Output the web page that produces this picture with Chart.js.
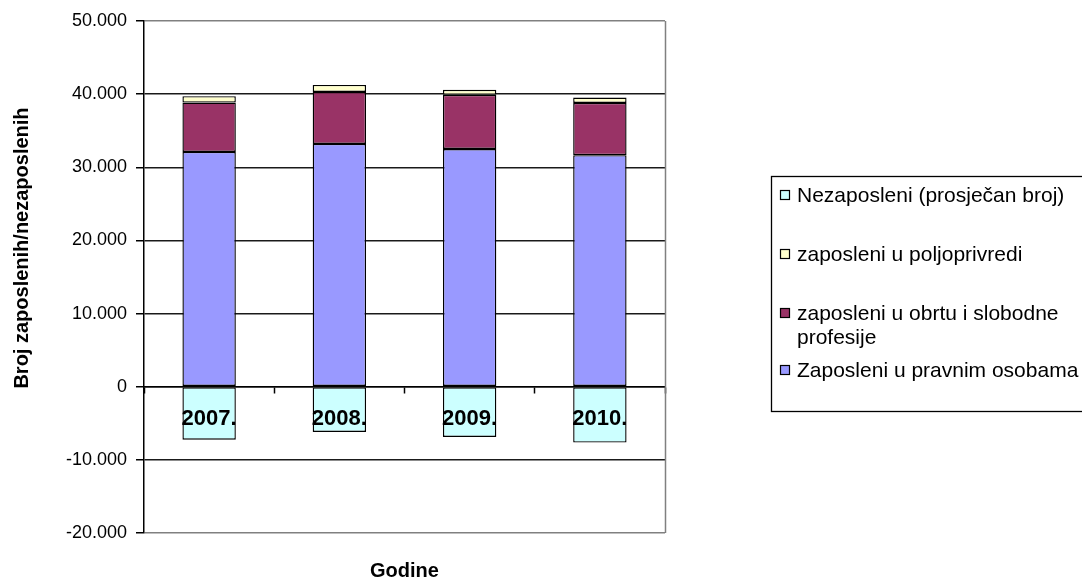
<!DOCTYPE html>
<html>
<head>
<meta charset="utf-8">
<title>Zaposleni i nezaposleni 2007.–2010.</title>
<script src="https://cdn.jsdelivr.net/npm/chart.js@4.4.1/dist/chart.umd.min.js"></script>
<style>
  html, body { margin: 0; padding: 0; background: #fff; }
  #wrap { position: relative; width: 1082px; height: 580px; }
</style>
</head>
<body>
<div id="wrap"><canvas id="c" width="1082" height="580"></canvas></div>
<script>
// Godine
const godine = ['2007.', '2008.', '2009.', '2010.'];
// Zaposleni u pravnim osobama
const pravneOsobe = [32100, 33200, 32500, 31650];
// Zaposleni u obrtu i slobodne profesije
const obrtProfesije = [6750, 7100, 7400, 7150];
// Zaposleni u poljoprivredi
const poljoprivreda = [870, 960, 690, 730];
// Nezaposleni (prosječan broj), prikazani ispod nule
const nezaposleni = [-7250, -6180, -6860, -7640];
// Raspon i korak osi Y
const yMin = -20000, yMax = 50000, yKorak = 10000;

const FONT = "'Liberation Sans', Arial, Helvetica, sans-serif";

const serije = [
  { label: 'Zaposleni u pravnim osobama', data: pravneOsobe, color: '#9999FF' },
  { label: 'zaposleni u obrtu i slobodne profesije', data: obrtProfesije, color: '#993366' },
  { label: 'zaposleni u poljoprivredi', data: poljoprivreda, color: '#FFFFCC' },
  { label: 'Nezaposleni (prosječan broj)', data: nezaposleni, color: '#CCFFFF' }
];

function fmt(v) {
  if (v === 0) return '0';
  const s = Math.abs(v).toString().replace(/\B(?=(\d{3})+(?!\d))/g, '.');
  return (v < 0 ? '-' : '') + s;
}

// Legenda, naslovi osi i desni rub područja crtanja
const ukrasi = {
  id: 'ukrasi',
  beforeDatasetsDraw(chart) {
    const { ctx, chartArea: a } = chart;
    ctx.save();
    ctx.strokeStyle = '#808080';
    ctx.lineWidth = 1.5;
    ctx.beginPath();
    ctx.moveTo(Math.round(a.right) + 0.5, a.top);
    ctx.lineTo(Math.round(a.right) + 0.5, a.bottom);
    ctx.stroke();
    ctx.restore();
  },
  afterDraw(chart) {
    const { ctx, chartArea: a } = chart;
    ctx.save();
    ctx.fillStyle = '#000';

    // naslov osi Y
    ctx.font = 'bold 20px ' + FONT;
    ctx.textAlign = 'center';
    ctx.textBaseline = 'middle';
    ctx.save();
    ctx.translate(22, 248);
    ctx.rotate(-Math.PI / 2);
    ctx.fillText('Broj zaposlenih/nezaposlenih', 0, 0);
    ctx.restore();

    // naslov osi X
    ctx.fillText('Godine', (a.left + a.right) / 2, 571);

    // legenda
    ctx.strokeStyle = '#000';
    ctx.lineWidth = 1.3;
    ctx.strokeRect(771.5, 176.5, 340, 235);
    const stavke = [
      { s: serije[3], y: 195, lines: ['Nezaposleni (prosječan broj)'] },
      { s: serije[2], y: 254, lines: ['zaposleni u poljoprivredi'] },
      { s: serije[1], y: 313, lines: ['zaposleni u obrtu i slobodne', 'profesije'] },
      { s: serije[0], y: 370, lines: ['Zaposleni u pravnim osobama'] }
    ];
    ctx.font = '21px ' + FONT;
    ctx.textAlign = 'left';
    ctx.textBaseline = 'middle';
    stavke.forEach(it => {
      ctx.fillStyle = it.s.color;
      ctx.fillRect(780.5, it.y - 4.5, 9, 9);
      ctx.strokeStyle = '#000';
      ctx.lineWidth = 1.2;
      ctx.strokeRect(780.5, it.y - 4.5, 9, 9);
      ctx.fillStyle = '#000';
      it.lines.forEach((t, i) => ctx.fillText(t, 797, it.y + 1 + i * 24));
    });
    ctx.restore();
  }
};

new Chart(document.getElementById('c'), {
  type: 'bar',
  data: {
    labels: godine,
    datasets: serije.map(s => ({
      label: s.label,
      data: s.data,
      backgroundColor: s.color,
      borderColor: '#000',
      borderWidth: 1.4,
      borderSkipped: false,
      barPercentage: 0.41,
      categoryPercentage: 1.0
    }))
  },
  options: {
    responsive: false,
    animation: false,
    devicePixelRatio: 1,
    layout: { padding: { left: 0, top: 21, right: 417, bottom: 47 } },
    plugins: { legend: { display: false }, tooltip: { enabled: false } },
    scales: {
      x: {
        stacked: true,
        position: { y: 0 },
        grid: { drawOnChartArea: false, offset: true, tickLength: 6, tickColor: '#000', tickWidth: 1.5 },
        border: { color: '#000', width: 1.5 },
        ticks: { z: 1, color: '#000', padding: 13, font: { family: FONT, size: 22, weight: 'bold' }, maxRotation: 0 }
      },
      y: {
        stacked: true,
        min: yMin,
        max: yMax,
        afterFit(scale) { scale.width = 144; },
        grid: {
          color: ctx => (ctx.tick && (ctx.tick.value === yMax || ctx.tick.value === yMin)) ? '#808080' : '#1a1a1a',
          lineWidth: 1.5,
          tickColor: '#000',
          tickLength: 8
        },
        border: { color: '#000', width: 1.5 },
        ticks: {
          stepSize: yKorak,
          color: '#000',
          padding: 9,
          font: { family: FONT, size: 18 },
          callback: v => fmt(v)
        }
      }
    }
  },
  plugins: [ukrasi]
});
</script>
</body>
</html>
